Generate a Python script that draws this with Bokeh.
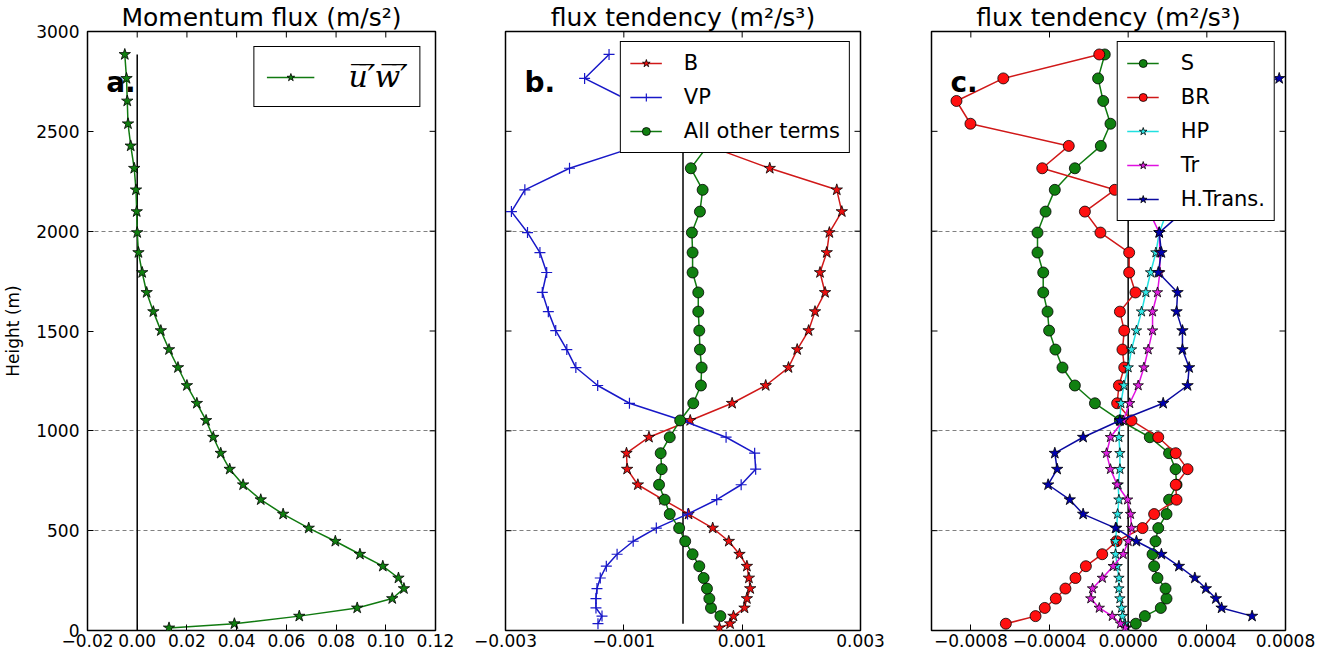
from bokeh.plotting import figure
from bokeh.layouts import row
from bokeh.models import (Range1d, FixedTicker, Legend, LegendItem, Label,
                          CustomJSTickFormatter)
from bokeh.embed import file_html
from bokeh.resources import INLINE

# ---------------- data ----------------
heights = [13, 34, 72, 113, 160, 210, 263, 322, 382, 447, 513, 583, 655, 730, 808, 888,
           968, 1052, 1138, 1227, 1317, 1407, 1502, 1597, 1693, 1793, 1893, 1993, 2098,
           2207, 2315, 2427, 2538, 2652, 2765, 2885]

# panel a: momentum flux (all levels)
uw = [0.0128, 0.0391, 0.0652, 0.0885, 0.1026, 0.1073, 0.1051, 0.0988, 0.0896, 0.0797,
      0.0690, 0.0587, 0.0497, 0.0426, 0.0372, 0.0336, 0.0306, 0.0277, 0.0240, 0.0200,
      0.0164, 0.0128, 0.0095, 0.0065, 0.0038, 0.0020, 0.0005, 0.0000, -0.0002, -0.0005,
      -0.0012, -0.0026, -0.0037, -0.0040, -0.0043, -0.0050]

# panel b (flux tendency terms)
B = [0.000615, 0.000796, 0.000853, 0.001040, 0.001080, 0.001136, 0.001114, 0.001080,
     0.000955, 0.000774, 0.000502, 0.000094, -0.000337, -0.000763, -0.000944, -0.000955,
     -0.000575, 0.000122, 0.000830, 0.001398, 0.001783, 0.001930, 0.002123, 0.002231,
     0.002401, 0.002316, 0.002429, 0.002474, 0.002684, 0.002599, 0.001466, 0.000430,
     0.000300, 0.000200, 0.000100, 0.000050]            # levels 0..35
VP = [-0.001437, -0.001369, -0.001471, -0.001471, -0.001454, -0.001398, -0.001296,
      -0.001114, -0.000842, -0.000451, 0.000077, 0.000570, 0.000983, 0.001228, 0.001211,
      0.000728, -0.000010, -0.000905, -0.001442, -0.001811, -0.001964, -0.002151,
      -0.002276, -0.002378, -0.002304, -0.002418, -0.002628, -0.002900, -0.002673,
      -0.001918, -0.000757, -0.000350, -0.000900, -0.001663, -0.001250]   # levels 1..35
OTHER = [0.000632, 0.000473, 0.000445, 0.000405, 0.000349, 0.000275, 0.000162, 0.000037,
         -0.000065, -0.000224, -0.000310, -0.000405, -0.000360, -0.000377, -0.000224,
         -0.000048, 0.000173, 0.000303, 0.000315, 0.000286, 0.000275, 0.000258, 0.000258,
         0.000162, 0.000162, 0.000150, 0.000286, 0.000332, 0.000133, 0.000417, 0.000400,
         0.000300, 0.000200, 0.000200]                   # levels 2..35

# panel c
S = [0.000039, 0.000085, 0.000166, 0.000195, 0.000190, 0.000149, 0.000132, 0.000124,
     0.000139, 0.000153, 0.000195, 0.000208, 0.000246, 0.000241, 0.000208, 0.000110,
     -0.000042, -0.000169, -0.000271, -0.000334, -0.000370, -0.000402, -0.000410,
     -0.000432, -0.000432, -0.000461, -0.000461, -0.000420, -0.000373, -0.000271,
     -0.000139, -0.000090, -0.000127, -0.000153, -0.000119]          # levels 1..35
BR = [-0.000622, -0.000471, -0.000424, -0.000368, -0.000319, -0.000268, -0.000215,
      -0.000132, -0.000059, 0.000073, 0.000132, 0.000246, 0.000242, 0.000302, 0.000242,
      0.000153, 0.000017, -0.000056, -0.000047, -0.000020, -0.000029, -0.000020,
      -0.000042, 0.000037, 0.000005, 0.000005, -0.000141, -0.000220, -0.000068,
      -0.000437, -0.000302, -0.000802, -0.000873, -0.000635, -0.000147]  # levels 1..35
HP = [-0.000008, -0.000017, -0.000029, -0.000034, -0.000042, -0.000047, -0.000047,
      -0.000056, -0.000064, -0.000064, -0.000059, -0.000054, -0.000047, -0.000051,
      -0.000042, -0.000042, -0.000047, -0.000042, -0.000037, -0.000022, 0.000000,
      0.000017, 0.000042, 0.000068, 0.000090, 0.000114, 0.000141, 0.000158, 0.000198,
      0.000150, 0.000100, 0.000050, 0.000020, 0.000050, 0.000100, 0.000100]  # levels 0..35
TR = [-0.000015, -0.000039, -0.000081, -0.000147, -0.000190, -0.000181, -0.000131,
      -0.000076, -0.000025, 0.000000, 0.000017, 0.000012, -0.000003, -0.000056,
      -0.000090, -0.000110, -0.000090, -0.000025, 0.000008, 0.000051, 0.000080,
      0.000102, 0.000124, 0.000124, 0.000149, 0.000161, 0.000161, 0.000158, 0.000107,
      0.000100, 0.000080, 0.000060, 0.000050, 0.000050, 0.000050, 0.000050]  # levels 0..35
HTRANS = [0.000630, 0.000475, 0.000446, 0.000395, 0.000339, 0.000258, 0.000169,
          0.000042, -0.000064, -0.000229, -0.000297, -0.000407, -0.000361, -0.000373,
          -0.000229, -0.000042, 0.000178, 0.000302, 0.000310, 0.000276, 0.000276,
          0.000246, 0.000251, 0.000153, 0.000169, 0.000158, 0.000280, 0.000150,
          0.000120, 0.000100, 0.000150, 0.000300, 0.000768, 0.000300]   # levels 2..35

titles = ["Momentum flux (m/s\u00b2)", "flux tendency (m\u00b2/s\u00b3)", "flux tendency (m\u00b2/s\u00b3)"]
panel_tags = ["a.", "b.", "c."]
xranges = [(-0.02, 0.12), (-0.003, 0.003), (-0.001, 0.0008)]
xticks = [[-0.02, 0.0, 0.02, 0.04, 0.06, 0.08, 0.10, 0.12],
          [-0.003, -0.001, 0.001, 0.003],
          [-0.0008, -0.0004, 0.0, 0.0004, 0.0008]]
xdigits = [2, 3, 4]
yticks = [0, 500, 1000, 1500, 2000, 2500, 3000]
dashed_levels = [500, 1000, 2000]

FONT = "DejaVu Sans"
H = 653
TOP = 31
BOTTOM = 23
FRAME_H = H - TOP - BOTTOM
FRAME_W = [354, 355, 354]
LEFT = [81, 35, 36]
RIGHT = [35, 35, 30]
TICK = 6
TICK_FONT = "17px"
TITLE_FONT = "25px"
AXLABEL_FONT = "17px"

FMT_CODE = """
const a = Math.abs(tick).toFixed(d);
if (tick < -1e-12) { return "\\u2212" + a; }
return a;
"""


def make_fig(i):
    p = figure(width=LEFT[i] + FRAME_W[i] + RIGHT[i], height=H,
               x_range=Range1d(*xranges[i]), y_range=Range1d(0, 3000),
               output_backend="svg", toolbar_location=None,
               min_border_left=LEFT[i], min_border_right=RIGHT[i],
               min_border_top=TOP, min_border_bottom=BOTTOM)
    p.background_fill_color = "white"
    p.border_fill_color = "white"
    p.outline_line_color = "black"
    p.outline_line_width = 1.5
    p.outline_line_alpha = 1.0

    p.title.text = titles[i]
    p.title.align = "center"
    p.title.text_font = FONT
    p.title.text_font_size = TITLE_FONT
    p.title.text_font_style = "normal"
    p.title.text_color = "black"
    p.title.standoff = 0

    p.xaxis.ticker = FixedTicker(ticks=xticks[i])
    p.xaxis.formatter = CustomJSTickFormatter(args=dict(d=xdigits[i]), code=FMT_CODE)
    p.xaxis.major_label_standoff = 3
    p.yaxis.ticker = FixedTicker(ticks=yticks)
    p.yaxis.major_label_standoff = 8
    for axl in (p.xaxis, p.yaxis):
        axl.major_tick_in = TICK
        axl.major_tick_out = 0
        axl.minor_tick_line_color = None
        axl.axis_line_color = None
        axl.major_tick_line_color = "black"
        axl.major_tick_line_width = 1
        axl.major_label_text_font = FONT
        axl.major_label_text_font_size = TICK_FONT
        axl.major_label_text_color = "black"
    if i == 0:
        p.yaxis.axis_label = "Height (m)"
        p.yaxis.axis_label_text_font = FONT
        p.yaxis.axis_label_text_font_size = AXLABEL_FONT
        p.yaxis.axis_label_text_font_style = "normal"
        p.yaxis.axis_label_text_color = "black"
        p.yaxis.axis_label_standoff = 10
    else:
        p.yaxis.visible = False

    # inward tick marks on the unlabeled sides (matplotlib box style)
    x0, x1 = xranges[i]
    tx = TICK / FRAME_W[i] * (x1 - x0)
    ty = TICK / FRAME_H * 3000
    p.segment(x0=xticks[i], y0=[3000] * len(xticks[i]), x1=xticks[i],
              y1=[3000 - ty] * len(xticks[i]), line_color="black", line_width=1)
    p.segment(x0=[x1] * len(yticks), y0=yticks, x1=[x1 - tx] * len(yticks), y1=yticks,
              line_color="black", line_width=1)
    if i > 0:
        p.segment(x0=[x0] * len(yticks), y0=yticks, x1=[x0 + tx] * len(yticks), y1=yticks,
                  line_color="black", line_width=1)

    p.xgrid.visible = False
    p.ygrid.ticker = FixedTicker(ticks=dashed_levels)
    p.ygrid.grid_line_color = "#808080"
    p.ygrid.grid_line_dash = "4 3"
    p.ygrid.grid_line_width = 1

    tag_x = x0 + 19.0 / FRAME_W[i] * (x1 - x0)
    tag_y = 3000 - 51.0 / FRAME_H * 3000
    p.add_layout(Label(x=tag_x, y=tag_y, text=panel_tags[i], text_font=FONT,
                       text_font_size="28px", text_font_style="bold", text_color="black",
                       text_baseline="alphabetic"))
    return p


def series(p, xs, hs, color, marker, size, fill, lw=1.5):
    l = p.line(x=xs, y=hs, line_color=color, line_width=lw)
    if marker == "cross":
        s = p.scatter(x=xs, y=hs, marker="cross", size=size, line_color=color, line_width=1.2)
    else:
        s = p.scatter(x=xs, y=hs, marker=marker, size=size, fill_color=fill,
                      line_color="black", line_width=0.8)
    return [l, s]


def legend(p, items, font_size, glyph_w, margin, padding, font=FONT, style="normal",
           label_h=22, spacing=10, standoff=22):
    lg = Legend(items=[LegendItem(label=t, renderers=r) for t, r in items],
                location="top_right", border_line_color="black", border_line_width=1.5,
                border_line_alpha=1.0, background_fill_color="white", background_fill_alpha=1.0,
                label_text_font=font, label_text_font_size=font_size,
                label_text_font_style=style, label_text_color="black",
                glyph_width=glyph_w, glyph_height=20, label_height=label_h,
                label_standoff=standoff, padding=padding, spacing=spacing, margin=margin)
    p.add_layout(lg)


# ---------------- panel a ----------------
p1 = make_fig(0)
p1.line(x=[0, 0], y=[0, heights[-1]], line_color="black", line_width=1.5)
ra = series(p1, uw, heights, "#107a10", "star", 12, "#108010")
legend(p1, [("u\u0305\u2032\u0305w\u0305\u2032\u0305", ra)], "30px", 48, 15, 12,
       font="DejaVu Serif", style="italic", label_h=34, spacing=0, standoff=34)

# ---------------- panel b ----------------
p2 = make_fig(1)
p2.line(x=[0, 0], y=[heights[1], heights[-1]], line_color="black", line_width=1.5)
rb = series(p2, B, heights, "#d01818", "star", 12, "#ee1111")
rvp = series(p2, VP, heights[1:], "#1818c8", "cross", 11, None)
rot = series(p2, OTHER, heights[2:], "#107a10", "circle", 11, "#108010")
legend(p2, [("B", rb), ("VP", rvp), ("All other terms", rot)], "21px", 32, 10, 9)

# ---------------- panel c ----------------
p3 = make_fig(2)
p3.line(x=[0, 0], y=[heights[0], heights[-1]], line_color="black", line_width=1.5)
rs = series(p3, S, heights[1:], "#107a10", "circle", 11, "#108010")
rbr = series(p3, BR, heights[1:], "#d01818", "circle", 11, "#ff1010")
rhp = series(p3, HP, heights, "#20e0e0", "star", 11, "#30e8e8")
rtr = series(p3, TR, heights, "#e010e0", "star", 11, "#e020e0")
rht = series(p3, HTRANS, heights[2:], "#0a0aa0", "star", 12, "#0000b0")
legend(p3, [("S", rs), ("BR", rbr), ("HP", rhp), ("Tr", rtr), ("H.Trans.", rht)],
       "21px", 32, 10, 9)

layout = row(p1, p2, p3)
open("out.html", "w").write(file_html(layout, INLINE))
